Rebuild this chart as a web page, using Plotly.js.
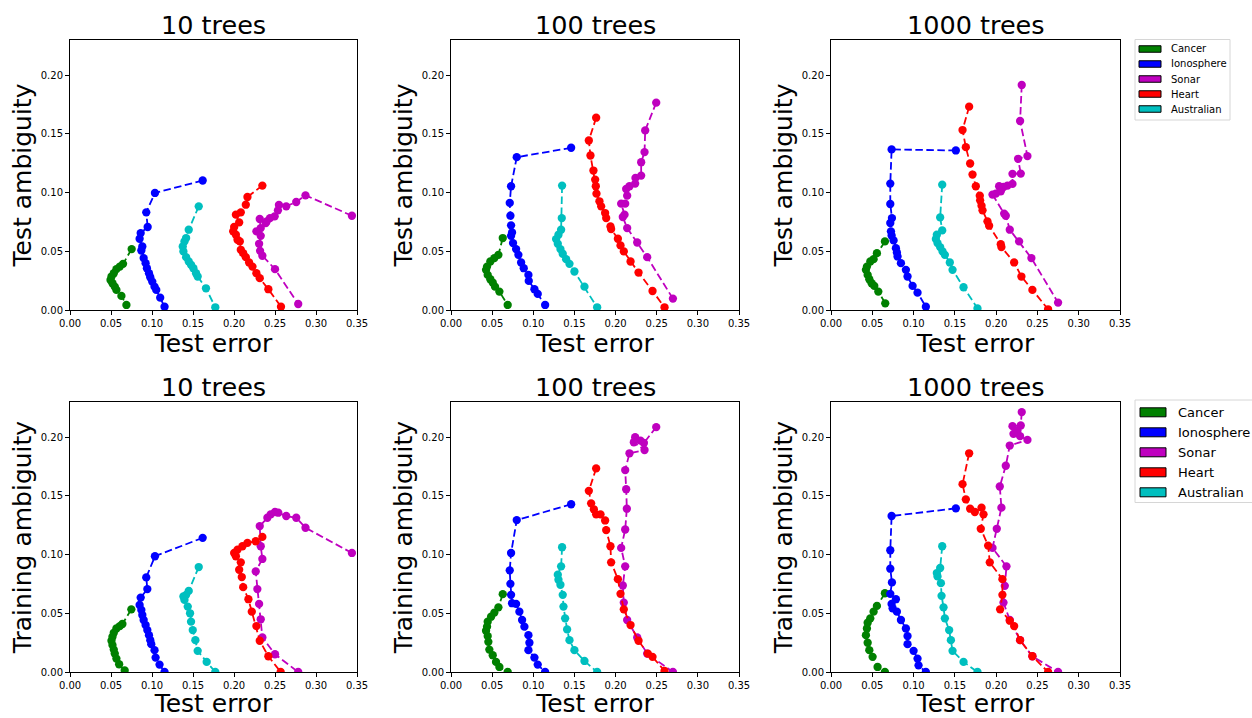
<!DOCTYPE html>
<html>
<head>
<meta charset="utf-8">
<script src="https://cdn.plot.ly/plotly-3.0.1.min.js"></script>
<style>html,body{margin:0;padding:0;background:#fff;}#chart{width:1252px;height:718px;}</style>
</head>
<body>
<div id="chart"></div>
<script>
// ---------- DATA ----------
const datasets = ["Cancer", "Ionosphere", "Sonar", "Heart", "Australian"];
const panelTitles = ["10 trees", "100 trees", "1000 trees"];
const xTickVals = [0, 0.05, 0.10, 0.15, 0.20, 0.25, 0.30, 0.35];
const yTickVals = [0, 0.05, 0.10, 0.15, 0.20];

// Top row: test error vs test ambiguity
const test10_cancer_err = [0.0752,0.0647,0.0607,0.0566,0.0534,0.0506,0.0494,0.0518,0.0546,0.0566,0.0627,0.0688];
const test10_cancer_amb = [0.0519,0.0393,0.0370,0.0348,0.0313,0.0285,0.0256,0.0228,0.0199,0.0171,0.0120,0.0043];
const test10_iono_err = [0.1618,0.1036,0.0930,0.0947,0.0862,0.0849,0.0882,0.0870,0.0898,0.0922,0.0938,0.0963,0.0979,0.1003,0.1031,0.1052,0.1100,0.1153];
const test10_iono_amb = [0.1103,0.0997,0.0832,0.0707,0.0655,0.0607,0.0541,0.0507,0.0442,0.0399,0.0356,0.0313,0.0279,0.0242,0.0199,0.0171,0.0105,0.0028];
const test10_sonar_err = [0.3438,0.2872,0.2759,0.2637,0.2548,0.2536,0.2496,0.2439,0.2399,0.2387,0.2314,0.2326,0.2273,0.2326,0.2306,0.2318,0.2346,0.2500,0.2783];
const test10_sonar_amb = [0.0803,0.0977,0.0920,0.0883,0.0895,0.0849,0.0798,0.0783,0.0755,0.0741,0.0775,0.0698,0.0670,0.0632,0.0564,0.0504,0.0462,0.0348,0.0051];
const test10_heart_err = [0.2346,0.2164,0.2144,0.2083,0.2023,0.2063,0.2002,0.1990,0.2023,0.2043,0.2071,0.2083,0.2112,0.2144,0.2184,0.2225,0.2273,0.2314,0.2419,0.2573];
const test10_heart_amb = [0.1060,0.0963,0.0897,0.0832,0.0812,0.0746,0.0707,0.0670,0.0641,0.0598,0.0584,0.0513,0.0484,0.0450,0.0405,0.0370,0.0313,0.0271,0.0177,0.0028];
const test10_aus_err = [0.1570,0.1448,0.1416,0.1396,0.1375,0.1383,0.1416,0.1448,0.1476,0.1505,0.1537,0.1557,0.1658,0.1772];
const test10_aus_amb = [0.0883,0.0684,0.0613,0.0584,0.0541,0.0499,0.0450,0.0413,0.0385,0.0356,0.0313,0.0285,0.0185,0.0023];

const test100_cancer_err = [0.0629,0.0576,0.0527,0.0478,0.0438,0.0426,0.0446,0.0478,0.0507,0.0535,0.0588,0.0689];
const test100_cancer_amb = [0.0613,0.0470,0.0442,0.0413,0.0370,0.0342,0.0299,0.0262,0.0234,0.0199,0.0157,0.0043];
const test100_iono_err = [0.1460,0.0799,0.0730,0.0714,0.0722,0.0730,0.0742,0.0730,0.0754,0.0791,0.0819,0.0852,0.0884,0.0941,0.0945,0.1014,0.1054,0.1144];
const test100_iono_amb = [0.1382,0.1302,0.1054,0.0912,0.0803,0.0721,0.0661,0.0632,0.0570,0.0519,0.0470,0.0405,0.0356,0.0299,0.0248,0.0177,0.0137,0.0043];
const test100_sonar_err = [0.2494,0.2360,0.2352,0.2311,0.2311,0.2242,0.2238,0.2169,0.2129,0.2141,0.2117,0.2068,0.2109,0.2088,0.2141,0.2263,0.2384,0.2697];
const test100_sonar_amb = [0.1766,0.1530,0.1345,0.1259,0.1145,0.1125,0.1077,0.1054,0.1031,0.0974,0.0906,0.0906,0.0812,0.0792,0.0698,0.0575,0.0450,0.0097];
const test100_heart_err = [0.1764,0.1675,0.1695,0.1731,0.1752,0.1760,0.1768,0.1804,0.1825,0.1873,0.1886,0.1938,0.1946,0.2028,0.2060,0.2100,0.2182,0.2279,0.2449,0.2595];
const test100_heart_amb = [0.1638,0.1444,0.1316,0.1188,0.1111,0.1054,0.0991,0.0926,0.0883,0.0826,0.0783,0.0712,0.0689,0.0607,0.0550,0.0499,0.0413,0.0319,0.0162,0.0023];
const test100_aus_err = [0.1350,0.1346,0.1338,0.1306,0.1277,0.1298,0.1330,0.1358,0.1399,0.1440,0.1500,0.1622,0.1776];
const test100_aus_amb = [0.1060,0.0783,0.0684,0.0641,0.0604,0.0564,0.0519,0.0479,0.0433,0.0393,0.0328,0.0199,0.0023];

const test1000_cancer_err = [0.0653,0.0556,0.0516,0.0476,0.0435,0.0423,0.0444,0.0464,0.0492,0.0524,0.0573,0.0657];
const test1000_cancer_amb = [0.0584,0.0484,0.0433,0.0413,0.0370,0.0342,0.0299,0.0262,0.0228,0.0205,0.0157,0.0057];
const test1000_iono_err = [0.1512,0.0734,0.0718,0.0718,0.0738,0.0718,0.0726,0.0734,0.0758,0.0786,0.0798,0.0806,0.0847,0.0907,0.0927,0.0988,0.1048,0.1149];
const test1000_iono_amb = [0.1359,0.1368,0.1077,0.0903,0.0783,0.0741,0.0670,0.0635,0.0593,0.0527,0.0490,0.0456,0.0399,0.0342,0.0285,0.0205,0.0148,0.0028];
const test1000_sonar_err = [0.2310,0.2290,0.2379,0.2266,0.2298,0.2198,0.2198,0.2137,0.2089,0.2036,0.2056,0.1996,0.1956,0.2097,0.2117,0.2165,0.2278,0.2427,0.2750];
const test1000_sonar_amb = [0.1917,0.1610,0.1311,0.1288,0.1162,0.1160,0.1074,0.1060,0.1048,0.1054,0.1011,0.0991,0.0983,0.0821,0.0803,0.0684,0.0584,0.0442,0.0063];
const test1000_heart_err = [0.1673,0.1593,0.1633,0.1685,0.1714,0.1754,0.1802,0.1806,0.1823,0.1835,0.1895,0.1915,0.2056,0.2064,0.2218,0.2306,0.2439,0.2629];
const test1000_heart_amb = [0.1732,0.1533,0.1387,0.1248,0.1154,0.1054,0.0974,0.0934,0.0889,0.0849,0.0755,0.0718,0.0561,0.0536,0.0405,0.0285,0.0171,0.0006];
const test1000_aus_err = [0.1347,0.1322,0.1347,0.1282,0.1270,0.1290,0.1322,0.1351,0.1379,0.1439,0.1472,0.1605,0.1774];
const test1000_aus_amb = [0.1068,0.0789,0.0678,0.0641,0.0604,0.0570,0.0536,0.0499,0.0470,0.0405,0.0342,0.0194,0.0014];

// Bottom row: test error vs training ambiguity
const train10_cancer_err = [0.0748,0.0639,0.0607,0.0566,0.0534,0.0518,0.0506,0.0518,0.0534,0.0546,0.0566,0.0599,0.0667];
const train10_cancer_amb = [0.0534,0.0409,0.0391,0.0371,0.0334,0.0300,0.0266,0.0229,0.0191,0.0157,0.0114,0.0066,0.0014];
const train10_iono_err = [0.1618,0.1036,0.0930,0.0943,0.0862,0.0849,0.0870,0.0882,0.0898,0.0922,0.0943,0.0963,0.0979,0.0991,0.1031,0.1044,0.1092,0.1153];
const train10_iono_amb = [0.1143,0.0986,0.0806,0.0706,0.0634,0.0571,0.0529,0.0486,0.0443,0.0400,0.0357,0.0314,0.0271,0.0237,0.0186,0.0123,0.0063,0.0000];
const train10_sonar_err = [0.3438,0.2872,0.2759,0.2637,0.2540,0.2500,0.2447,0.2407,0.2314,0.2326,0.2346,0.2265,0.2285,0.2306,0.2326,0.2346,0.2500,0.2783];
const train10_sonar_amb = [0.1014,0.1229,0.1314,0.1329,0.1357,0.1363,0.1343,0.1314,0.1243,0.1071,0.0963,0.0857,0.0706,0.0580,0.0449,0.0294,0.0151,0.0000];
const train10_heart_err = [0.2346,0.2265,0.2164,0.2103,0.2043,0.2002,0.2023,0.2083,0.2063,0.2095,0.2112,0.2176,0.2217,0.2273,0.2314,0.2419,0.2569];
const train10_heart_amb = [0.1151,0.1114,0.1100,0.1071,0.1043,0.1014,0.0986,0.0934,0.0871,0.0809,0.0723,0.0620,0.0514,0.0391,0.0266,0.0134,0.0000];
const train10_aus_err = [0.1570,0.1448,0.1416,0.1383,0.1396,0.1436,0.1464,0.1476,0.1497,0.1529,0.1557,0.1667,0.1772];
const train10_aus_amb = [0.0894,0.0691,0.0657,0.0643,0.0614,0.0557,0.0500,0.0429,0.0357,0.0271,0.0180,0.0086,0.0000];

const train100_cancer_err = [0.0629,0.0576,0.0527,0.0487,0.0446,0.0438,0.0426,0.0446,0.0454,0.0466,0.0507,0.0547,0.0588,0.0689];
const train100_cancer_amb = [0.0663,0.0551,0.0506,0.0471,0.0429,0.0386,0.0351,0.0306,0.0257,0.0191,0.0143,0.0086,0.0043,0.0000];
const train100_iono_err = [0.1460,0.0799,0.0730,0.0714,0.0722,0.0730,0.0742,0.0791,0.0831,0.0864,0.0892,0.0941,0.0953,0.0941,0.1014,0.1054,0.1144];
const train100_iono_amb = [0.1429,0.1294,0.1014,0.0866,0.0751,0.0657,0.0586,0.0580,0.0514,0.0443,0.0386,0.0314,0.0249,0.0186,0.0123,0.0063,0.0000];
const train100_sonar_err = [0.2494,0.2344,0.2303,0.2238,0.2222,0.2352,0.2169,0.2117,0.2129,0.2137,0.2117,0.2068,0.2117,0.2088,0.2100,0.2141,0.2263,0.2384,0.2697];
const train100_sonar_amb = [0.2086,0.1951,0.1971,0.2000,0.1957,0.1891,0.1863,0.1720,0.1557,0.1391,0.1214,0.1057,0.0900,0.0737,0.0591,0.0443,0.0294,0.0157,0.0000];
const train100_heart_err = [0.1764,0.1675,0.1703,0.1736,0.1764,0.1817,0.1873,0.1886,0.1938,0.1946,0.2028,0.2060,0.2100,0.2182,0.2279,0.2392,0.2449,0.2595];
const train100_heart_amb = [0.1734,0.1543,0.1437,0.1386,0.1343,0.1343,0.1291,0.1209,0.1071,0.0934,0.0791,0.0666,0.0534,0.0400,0.0266,0.0157,0.0129,0.0009];
const train100_aus_err = [0.1350,0.1338,0.1298,0.1306,0.1330,0.1358,0.1367,0.1387,0.1411,0.1440,0.1500,0.1622,0.1776];
const train100_aus_amb = [0.1063,0.0900,0.0829,0.0786,0.0743,0.0657,0.0557,0.0457,0.0363,0.0271,0.0186,0.0094,0.0000];

const train1000_cancer_err = [0.0653,0.0556,0.0516,0.0476,0.0444,0.0435,0.0423,0.0444,0.0464,0.0504,0.0564,0.0653];
const train1000_cancer_amb = [0.0671,0.0563,0.0514,0.0457,0.0420,0.0371,0.0314,0.0249,0.0186,0.0129,0.0043,0.0000];
const train1000_iono_err = [0.1512,0.0734,0.0718,0.0718,0.0738,0.0718,0.0786,0.0734,0.0746,0.0798,0.0847,0.0907,0.0927,0.0927,0.1000,0.1048,0.1060,0.1149];
const train1000_iono_amb = [0.1394,0.1329,0.1037,0.0880,0.0763,0.0666,0.0620,0.0580,0.0543,0.0514,0.0443,0.0371,0.0306,0.0237,0.0180,0.0114,0.0057,0.0000];
const train1000_sonar_err = [0.2310,0.2298,0.2198,0.2258,0.2210,0.2290,0.2379,0.2165,0.2117,0.2044,0.2064,0.2008,0.1956,0.2125,0.2105,0.2089,0.2165,0.2290,0.2439,0.2750];
const train1000_sonar_amb = [0.2214,0.2100,0.2094,0.2057,0.2029,0.2009,0.1977,0.1929,0.1757,0.1580,0.1400,0.1220,0.1057,0.0900,0.0734,0.0591,0.0443,0.0271,0.0134,0.0000];
const train1000_heart_err = [0.1673,0.1593,0.1633,0.1685,0.1742,0.1823,0.1847,0.1814,0.1903,0.1923,0.2076,0.2076,0.2048,0.2165,0.2218,0.2290,0.2439,0.2629];
const train1000_heart_amb = [0.1863,0.1600,0.1471,0.1391,0.1363,0.1400,0.1343,0.1220,0.1077,0.0934,0.0791,0.0657,0.0534,0.0437,0.0391,0.0271,0.0134,0.0000];
const train1000_aus_err = [0.1347,0.1322,0.1282,0.1290,0.1331,0.1339,0.1363,0.1379,0.1431,0.1452,0.1472,0.1605,0.1774];
const train1000_aus_amb = [0.1071,0.0886,0.0843,0.0814,0.0757,0.0649,0.0551,0.0457,0.0357,0.0271,0.0180,0.0086,0.0000];

// ---------- STYLE ----------
const colors = {Cancer:"#008000", Ionosphere:"#0000ff", Sonar:"#bf00bf", Heart:"#ff0000", Australian:"#00bfbf"};
const FONT = "DejaVu Sans, Verdana, sans-serif";
const W = 1252, H = 718;

const panels = [
  {ax:1, data:{Cancer:[test10_cancer_err,test10_cancer_amb], Ionosphere:[test10_iono_err,test10_iono_amb], Sonar:[test10_sonar_err,test10_sonar_amb], Heart:[test10_heart_err,test10_heart_amb], Australian:[test10_aus_err,test10_aus_amb]}},
  {ax:2, data:{Cancer:[test100_cancer_err,test100_cancer_amb], Ionosphere:[test100_iono_err,test100_iono_amb], Sonar:[test100_sonar_err,test100_sonar_amb], Heart:[test100_heart_err,test100_heart_amb], Australian:[test100_aus_err,test100_aus_amb]}},
  {ax:3, data:{Cancer:[test1000_cancer_err,test1000_cancer_amb], Ionosphere:[test1000_iono_err,test1000_iono_amb], Sonar:[test1000_sonar_err,test1000_sonar_amb], Heart:[test1000_heart_err,test1000_heart_amb], Australian:[test1000_aus_err,test1000_aus_amb]}},
  {ax:4, data:{Cancer:[train10_cancer_err,train10_cancer_amb], Ionosphere:[train10_iono_err,train10_iono_amb], Sonar:[train10_sonar_err,train10_sonar_amb], Heart:[train10_heart_err,train10_heart_amb], Australian:[train10_aus_err,train10_aus_amb]}},
  {ax:5, data:{Cancer:[train100_cancer_err,train100_cancer_amb], Ionosphere:[train100_iono_err,train100_iono_amb], Sonar:[train100_sonar_err,train100_sonar_amb], Heart:[train100_heart_err,train100_heart_amb], Australian:[train100_aus_err,train100_aus_amb]}},
  {ax:6, data:{Cancer:[train1000_cancer_err,train1000_cancer_amb], Ionosphere:[train1000_iono_err,train1000_iono_amb], Sonar:[train1000_sonar_err,train1000_sonar_amb], Heart:[train1000_heart_err,train1000_heart_amb], Australian:[train1000_aus_err,train1000_aus_amb]}}
];

const traces = [];
panels.forEach(p => {
  const sfx = p.ax === 1 ? "" : String(p.ax);
  datasets.forEach(name => {
    const d = p.data[name];
    traces.push({
      type: "scatter", mode: "lines+markers", x: d[0], y: d[1],
      xaxis: "x" + sfx, yaxis: "y" + sfx, showlegend: false, hoverinfo: "skip",
      line: {color: colors[name], width: 1.8, dash: "7.5px,3.5px"},
      marker: {color: colors[name], size: 8.3, line: {width: 0}}
    });
  });
});

const colDom = [[70/W, 357/W], [451/W, 739/W], [831/W, 1120/W]];
const rowDom = [[(H-310)/H, (H-40)/H], [(H-672)/H, (H-402)/H]];

const layout = {
  width: W, height: H, margin: {l:0, r:0, t:0, b:0},
  paper_bgcolor: "#fff", plot_bgcolor: "#fff",
  font: {family: FONT, color: "#000"},
  showlegend: false,
  annotations: [], shapes: []
};

for (let i = 0; i < 6; i++) {
  const sfx = i === 0 ? "" : String(i + 1);
  const row = i < 3 ? 0 : 1, col = i % 3;
  const common = {showgrid: false, zeroline: false, showline: true, mirror: true,
    linecolor: "#000", linewidth: 1, ticks: "outside", ticklen: 4, tickwidth: 1, tickcolor: "#000",
    tickfont: {family: FONT, size: 10}, automargin: false, fixedrange: true};
  layout["xaxis" + sfx] = Object.assign({}, common, {
    domain: colDom[col], range: [0, 0.35], tickvals: xTickVals, tickformat: ".2f",
    anchor: "y" + sfx, title: {text: "Test error", font: {family: FONT, size: 25}, standoff: 2}
  });
  layout["yaxis" + sfx] = Object.assign({}, common, {
    domain: rowDom[row], range: [0, 0.23], tickvals: yTickVals, tickformat: ".2f",
    anchor: "x" + sfx, title: {text: row === 0 ? "Test ambiguity" : "Training ambiguity", font: {family: FONT, size: 25}, standoff: 1}
  });
  layout.annotations.push({
    text: panelTitles[col], xref: "x" + sfx + " domain", yref: "y" + sfx + " domain",
    x: 0.5, y: 1, xanchor: "center", yanchor: "bottom", yshift: -2, showarrow: false,
    font: {family: FONT, size: 25.5}
  });
}

// ---------- LEGENDS (drawn as patches + text, matplotlib style) ----------
const legends = [
  {box:[1135, 39.5, 1230, 120], patchX:[1139, 1161], patchH:6.5, textX:1169, rows:[49, 64, 79, 94, 109], size:10},
  {box:[1135, 400, 1262, 502.5], patchX:[1140, 1166], patchH:9, textX:1176, rows:[412.3, 432.3, 452.3, 472.3, 492.3], size:13}
];
const px = v => v / W, py = v => 1 - v / H;
legends.forEach(lg => {
  layout.shapes.push({type:"rect", xref:"paper", yref:"paper",
    x0:px(lg.box[0]), x1:px(lg.box[2]), y0:py(lg.box[1]), y1:py(lg.box[3]),
    line:{color:"#d6d6d6", width:1}, fillcolor:"#fff", layer:"above"});
  datasets.forEach((name, k) => {
    const cy = lg.rows[k];
    layout.shapes.push({type:"rect", xref:"paper", yref:"paper",
      x0:px(lg.patchX[0]), x1:px(lg.patchX[1]), y0:py(cy - lg.patchH/2), y1:py(cy + lg.patchH/2),
      line:{color:"#000", width:1}, fillcolor:colors[name], layer:"above"});
    layout.annotations.push({text:name, xref:"paper", yref:"paper", x:px(lg.textX), y:py(cy),
      xanchor:"left", yanchor:"middle", showarrow:false, font:{family:FONT, size:lg.size, color:"#000"}});
  });
});

Plotly.newPlot("chart", traces, layout, {staticPlot: true, displayModeBar: false});
</script>
</body>
</html>
